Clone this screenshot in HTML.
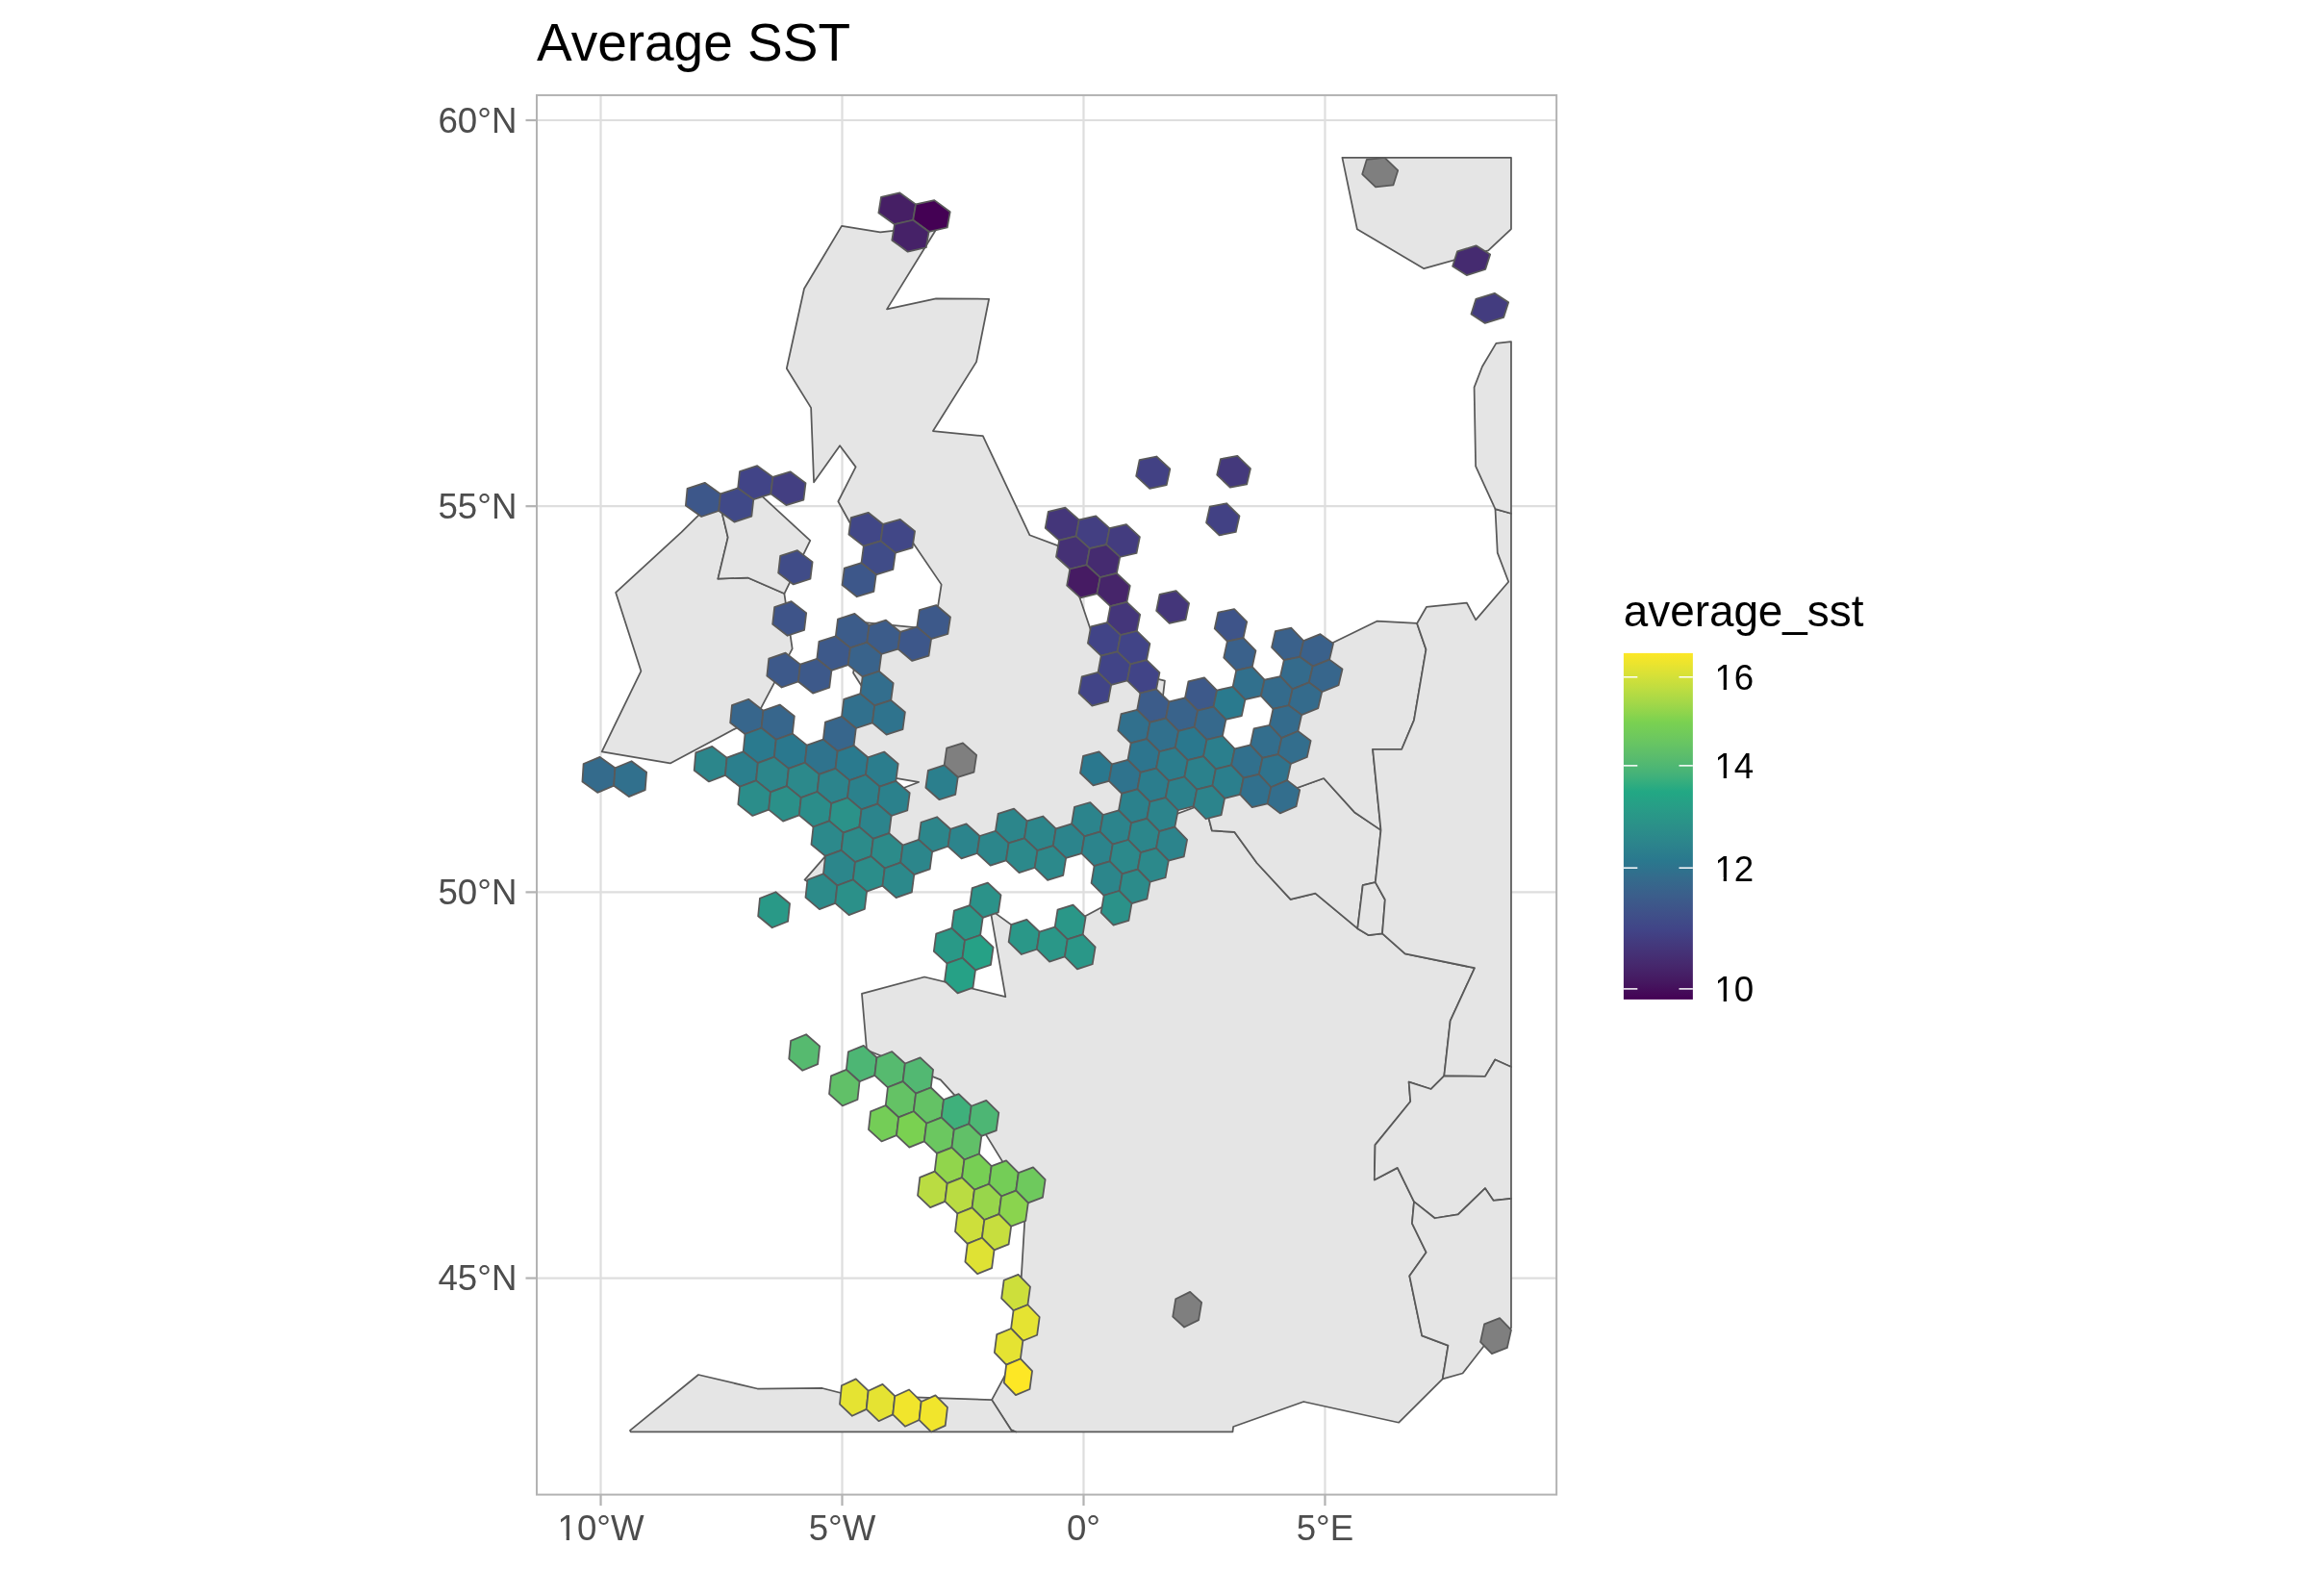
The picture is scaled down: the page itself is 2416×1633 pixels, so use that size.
<!DOCTYPE html>
<html><head><meta charset="utf-8"><title>Average SST</title>
<style>html,body{margin:0;padding:0;background:#fff;}svg{display:block;}text{font-family:"Liberation Sans",sans-serif;}</style></head>
<body>
<svg width="2416" height="1633" viewBox="0 0 2416 1633">
<defs><clipPath id="pc"><rect x="558" y="98.95" width="1060.14" height="1454.65"/></clipPath>
<linearGradient id="cb" x1="0" y1="0" x2="0" y2="1"><stop offset="0" stop-color="#fde725"/><stop offset="0.05" stop-color="#dfe234"/><stop offset="0.1" stop-color="#c0dd40"/><stop offset="0.15" stop-color="#9fd749"/><stop offset="0.2" stop-color="#7ad151"/><stop offset="0.25" stop-color="#6bc760"/><stop offset="0.3" stop-color="#5abc6d"/><stop offset="0.35" stop-color="#44b279"/><stop offset="0.4" stop-color="#22a884"/><stop offset="0.45" stop-color="#289c87"/><stop offset="0.5" stop-color="#2b9089"/><stop offset="0.55" stop-color="#2c848c"/><stop offset="0.6" stop-color="#2a788e"/><stop offset="0.65" stop-color="#346b8c"/><stop offset="0.7" stop-color="#3b5e8b"/><stop offset="0.75" stop-color="#3f5189"/><stop offset="0.8" stop-color="#414487"/><stop offset="0.85" stop-color="#44367a"/><stop offset="0.9" stop-color="#46286d"/><stop offset="0.95" stop-color="#451860"/><stop offset="1" stop-color="#440154"/></linearGradient></defs>
<rect width="2416" height="1633" fill="#fff"/>
<g stroke="#dedede" stroke-width="2.22" fill="none"><line x1="624.53" y1="98.95" x2="624.53" y2="1553.6"/><line x1="875.51" y1="98.95" x2="875.51" y2="1553.6"/><line x1="1126.49" y1="98.95" x2="1126.49" y2="1553.6"/><line x1="1377.47" y1="98.95" x2="1377.47" y2="1553.6"/><line x1="558" y1="124.99" x2="1618.14" y2="124.99"/><line x1="558" y1="526.19" x2="1618.14" y2="526.19"/><line x1="558" y1="927.39" x2="1618.14" y2="927.39"/><line x1="558" y1="1328.59" x2="1618.14" y2="1328.59"/></g>
<g clip-path="url(#pc)" fill="#e5e5e5" stroke="#595959" stroke-width="1.75" stroke-linejoin="round">
<path d="M823.66 674.38L785.72 746.04L696.73 793.45L625.68 781.32L666.38 697.53L640.16 615.95L708.46 553.11L746.4 515.63L756.74 558.62L746.4 601.62L777.44 600.52L815.38 617.06Z"/>
<path d="M777.44 600.52L746.4 601.62L756.74 558.62L746.4 515.63L788.48 512.32L842.28 561.93L815.38 617.06Z"/>
<path d="M971.28 654.22L978.66 607.63L945.05 558.21L944.28 557.08L883.33 542.96L871.37 521.25L889.61 485.39L873.1 463.28L846.08 501.22L843.13 423.88L817.79 382.96L836.01 300.01L875.01 234.92L915.09 241.27L975.65 234.52L922 321.34L973.14 310.34L1028.14 310.76L1015.06 376.14L969.93 448.05L1021.83 453.17L1025.81 461.6L1070.52 556.28L1104.88 569.17L1135.78 660.59L1150.08 692.29L1210.9 707.57L1204.8 758.89L1179.22 782.42L1199.27 823.93L1154.11 865.95L1086.96 865.2L1001.5 887.27L978.1 871.47L944.91 909.07L898.47 899.96L863.21 930.6L836.53 914.58L910.15 830.3L955.08 812.97L954.68 812.9L876.29 799.53L862.09 767.6L914.55 742.73L887.05 699.51L896.59 646.95L971.19 654.21Z"/>
<path d="M1259.93 863.45L1283.26 864.77L1306.6 896.98L1341.63 934.81L1367.39 928.56L1411.3 965.14L1422.53 972.11L1437.02 970.41L1460.71 991.42L1533.04 1006.2L1507.66 1061.15L1501.29 1118.31L1487.51 1132.02L1464.64 1124.64L1466.25 1145.02L1429.54 1190.11L1428.8 1226.45L1452.77 1213.87L1470.01 1249.06L1467.94 1271.73L1482.71 1301.86L1465.31 1326.3L1478.24 1388.39L1505.45 1398.57L1499.71 1433.4L1454.23 1478.73L1355.23 1457L1282.12 1483.04L1281.47 1488.47L1056.45 1488.47L1051.06 1486.34L1031.05 1455.14L1057.01 1407.02L1066.57 1247.15L1014.77 1162.95L977.75 1122.35L901.03 1091.48L895.97 1032.97L961.05 1015.52L1045.35 1036.16L1029.44 945.34L1076.82 979.76L1193.69 917.19L1208.76 851.43L1252.66 835.23Z"/>
<path d="M726.02 1429.02L787.44 1443.5L854.83 1442.99L908.25 1456.7L949.92 1452.49L1031.05 1455.14L1051.06 1486.34L1056.45 1488.47L655.91 1488.47L655 1486.93Z"/>
<path d="M1329.64 825.71L1376.16 809.03L1407.94 844.16L1435.53 862.9L1429.83 917.12L1416.74 920.14L1411.3 965.14L1367.39 928.56L1341.63 934.81L1306.6 896.98L1283.26 864.77L1259.93 863.45L1252.66 835.23L1292.89 819.4Z"/>
<path d="M1473.1 647.98L1482.48 675.11L1469.97 748.58L1457.25 778.78L1427.1 778.82L1435.53 862.9L1407.94 844.16L1376.16 809.03L1329.64 825.71L1292.89 819.4L1318.76 797.36L1362.71 679.3L1431.39 645.72Z"/>
<path d="M1439.85 935.24L1437.02 970.41L1422.53 972.11L1411.3 965.14L1416.74 920.14L1429.83 917.12Z"/>
<path d="M1554.29 1101.44L1543.99 1118.88L1501.29 1118.31L1507.66 1061.15L1533.04 1006.2L1460.71 991.42L1437.02 970.41L1439.85 935.24L1429.83 917.12L1435.53 862.9L1427.1 778.82L1457.25 778.78L1469.97 748.58L1482.48 675.11L1473.1 647.98L1482.9 630.99L1524.86 626.63L1534.17 644.32L1568.25 604.76L1556.78 574.68L1554.47 529.18L1570.97 533.78L1570.97 1109.05Z"/>
<path d="M1554.47 529.18L1534.1 484.65L1532.57 402.62L1540.94 380.96L1555.34 356.88L1570.97 355.12L1570.97 533.78Z"/>
<path d="M1552.65 1247.94L1543.95 1235.22L1515.81 1262.43L1491.61 1266.25L1470.01 1249.06L1452.77 1213.87L1428.8 1226.45L1429.54 1190.11L1466.25 1145.02L1464.64 1124.64L1487.51 1132.02L1501.29 1118.31L1543.99 1118.88L1554.29 1101.44L1570.97 1109.05L1570.97 1245.98Z"/>
<path d="M1549.57 1390.28L1520.57 1427.51L1499.71 1433.4L1505.45 1398.57L1478.24 1388.39L1465.31 1326.3L1482.71 1301.86L1467.94 1271.73L1470.01 1249.06L1491.61 1266.25L1515.81 1262.43L1543.95 1235.22L1552.65 1247.94L1570.97 1245.98L1570.97 1380.24Z"/>
<path d="M1547.23 260.33L1480.31 279.14L1410.89 238.28L1395.41 163.85L1570.97 163.85L1570.97 238.11Z"/>
</g>
<g clip-path="url(#pc)" stroke="#595959" stroke-width="1.75" stroke-linejoin="round">
<path fill="#7f7f7f" d="M1439.43 163.85L1420.84 165.77L1416.21 181.01L1430.07 194.27L1448.49 192.33L1453.22 177.15Z"/>
<path fill="#461f65" d="M935.43 200.43L916.01 204.9L913.36 221.31L929.97 233.22L949.23 228.76L952.03 212.39Z"/>
<path fill="#440154" d="M971.36 208.09L952.03 212.39L949.23 228.76L965.62 240.8L984.79 236.51L987.73 220.18Z"/>
<path fill="#462268" d="M949.23 228.76L929.97 233.22L927.28 249.69L943.7 261.68L962.79 257.24L965.62 240.8Z"/>
<path fill="#452b70" d="M1514.97 261.44L1510.11 276.82L1524.69 286.07L1544.19 279.98L1549.18 264.6L1534.54 255.32Z"/>
<path fill="#433c7f" d="M1534.32 310.89L1529.44 326.42L1543.84 335.9L1563.18 329.87L1568.2 314.34L1553.74 304.83Z"/>
<path fill="#424184" d="M1202.28 474.5L1184.62 478.18L1181.15 494.85L1195.25 507.79L1212.76 504.1L1216.33 487.48Z"/>
<path fill="#44397c" d="M1286.42 473.83L1268.93 477.11L1265.18 493.58L1278.81 506.72L1296.14 503.43L1300 487.02Z"/>
<path fill="#414487" d="M787.25 484.18L769.05 489.96L767.15 507.45L783.31 519.13L801.38 513.37L803.41 495.91Z"/>
<path fill="#433f82" d="M821.56 490.29L803.41 495.91L801.38 513.37L817.36 525.17L835.37 519.57L837.53 502.15Z"/>
<path fill="#3d578a" d="M732.69 501.82L714.53 507.91L712.85 525.53L729.19 537.03L747.22 530.96L749.03 513.37Z"/>
<path fill="#404988" d="M767.15 507.45L749.03 513.37L747.22 530.96L763.39 542.59L781.37 536.68L783.31 519.13Z"/>
<path fill="#44367a" d="M1107.4 527.65L1089.78 531.91L1086.7 548.93L1101.12 561.65L1118.59 557.39L1121.78 540.42Z"/>
<path fill="#424184" d="M1275.04 523.24L1257.75 526.67L1254.07 543.29L1267.6 556.44L1284.75 553L1288.52 536.42Z"/>
<path fill="#414787" d="M902.61 532.8L884.73 538.09L882.4 555.53L897.84 567.63L915.59 562.35L918.03 544.95Z"/>
<path fill="#433f82" d="M1139.3 536.3L1121.78 540.42L1118.59 557.39L1132.81 570.2L1150.19 566.08L1153.49 549.15Z"/>
<path fill="#414787" d="M935.85 539.82L918.03 544.95L915.59 562.35L930.84 574.57L948.52 569.44L951.08 552.08Z"/>
<path fill="#433c7f" d="M1170.91 545.17L1153.49 549.15L1150.19 566.08L1164.22 578.98L1181.5 574.99L1184.9 558.12Z"/>
<path fill="#453175" d="M1118.59 557.39L1101.12 561.65L1098.01 578.73L1112.28 591.49L1129.6 587.23L1132.81 570.2Z"/>
<path fill="#404c88" d="M915.59 562.35L897.84 567.63L895.48 585.13L910.75 597.3L928.36 592.02L930.84 574.57Z"/>
<path fill="#452b70" d="M1150.19 566.08L1132.81 570.2L1129.6 587.23L1143.67 600.08L1160.9 595.96L1164.22 578.98Z"/>
<path fill="#404c88" d="M828.98 572.13L811.18 577.87L809.15 595.54L824.8 607.43L842.46 601.71L844.61 584.08Z"/>
<path fill="#3d578a" d="M895.48 585.13L877.8 590.55L875.53 608.14L890.81 620.26L908.36 614.84L910.75 597.3Z"/>
<path fill="#461b63" d="M1129.6 587.23L1112.28 591.49L1109.15 608.62L1123.26 621.43L1140.45 617.16L1143.67 600.08Z"/>
<path fill="#46256a" d="M1160.9 595.96L1143.67 600.08L1140.45 617.16L1154.36 630.06L1171.45 625.93L1174.77 608.9Z"/>
<path fill="#44367a" d="M1222.62 614.07L1205.59 617.93L1202.16 634.9L1215.69 647.97L1232.58 644.09L1236.1 627.17Z"/>
<path fill="#3e5489" d="M822.73 625.16L805.15 631.03L803.17 648.84L818.65 660.75L836.11 654.89L838.21 637.12Z"/>
<path fill="#44367a" d="M1171.45 625.93L1154.36 630.06L1151.12 647.19L1164.87 660.13L1181.83 655.98L1185.17 638.91Z"/>
<path fill="#3d598a" d="M973.26 629.02L955.85 634.14L953.32 651.7L968.08 664.09L985.35 658.97L988 641.46Z"/>
<path fill="#3e5489" d="M1283.15 633.01L1266.32 636.61L1262.71 653.49L1275.84 666.7L1292.53 663.08L1296.23 646.26Z"/>
<path fill="#3c5c8a" d="M888.51 637.91L871.04 643.47L868.82 661.21L883.95 673.34L901.29 667.79L903.63 650.09Z"/>
<path fill="#3c5c8a" d="M921.04 644.68L903.63 650.09L901.29 667.79L916.25 680.03L933.53 674.62L935.98 656.96Z"/>
<path fill="#414487" d="M1151.12 647.19L1134.07 651.46L1130.91 668.69L1144.71 681.59L1161.62 677.3L1164.87 660.13Z"/>
<path fill="#3d578a" d="M953.32 651.7L935.98 656.96L933.53 674.62L948.3 686.96L965.51 681.7L968.08 664.09Z"/>
<path fill="#414487" d="M1181.83 655.98L1164.87 660.13L1161.62 677.3L1175.23 690.28L1192.05 686.13L1195.4 669.01Z"/>
<path fill="#3a618b" d="M1342.46 652.73L1325.84 656.09L1322.06 672.86L1334.81 686.21L1351.29 682.82L1355.15 666.11Z"/>
<path fill="#3d598a" d="M868.82 661.21L851.42 666.92L849.28 684.75L864.43 696.83L881.7 691.13L883.95 673.34Z"/>
<path fill="#3a618b" d="M1292.53 663.08L1275.84 666.7L1272.23 683.62L1285.22 696.86L1301.78 693.22L1305.48 676.36Z"/>
<path fill="#3a618b" d="M1355.15 666.11L1351.29 682.82L1364.73 692.57L1382.11 685.62L1386.09 668.9L1372.58 659.13Z"/>
<path fill="#39638b" d="M901.29 667.79L883.95 673.34L881.7 691.13L896.67 703.32L913.88 697.77L916.25 680.03Z"/>
<path fill="#414487" d="M1161.62 677.3L1144.71 681.59L1141.54 698.86L1155.19 711.8L1171.97 707.51L1175.23 690.28Z"/>
<path fill="#3d598a" d="M816.64 678.63L799.26 684.63L797.32 702.59L812.65 714.51L829.9 708.52L831.96 690.6Z"/>
<path fill="#3d598a" d="M849.28 684.75L831.96 690.6L829.9 708.52L845.06 720.56L862.26 714.72L864.43 696.83Z"/>
<path fill="#414487" d="M1192.05 686.13L1175.23 690.28L1171.97 707.51L1185.43 720.52L1202.11 716.36L1205.47 699.19Z"/>
<path fill="#346b8c" d="M1351.29 682.82L1334.81 686.21L1331.02 703.02L1343.63 716.39L1360.85 709.36L1364.73 692.57Z"/>
<path fill="#37668c" d="M1364.73 692.57L1360.85 709.36L1374.23 719.21L1391.55 712.3L1395.54 695.5L1382.11 685.62Z"/>
<path fill="#31708d" d="M1301.78 693.22L1285.22 696.86L1281.6 713.83L1294.45 727.1L1310.87 723.45L1314.58 706.54Z"/>
<path fill="#336e8d" d="M913.88 697.77L896.67 703.32L894.39 721.17L909.2 733.41L926.28 727.87L928.68 710.07Z"/>
<path fill="#414487" d="M1141.54 698.86L1124.68 703.29L1121.59 720.66L1135.28 733.55L1152.01 729.12L1155.19 711.8Z"/>
<path fill="#3d598a" d="M1252.04 704.4L1235.42 708.3L1231.97 725.42L1245.05 738.58L1261.54 734.67L1265.08 717.6Z"/>
<path fill="#346b8c" d="M1331.02 703.02L1314.58 706.54L1310.87 723.45L1323.53 736.78L1339.85 733.25L1343.63 716.39Z"/>
<path fill="#3c5c8a" d="M1202.11 716.36L1185.43 720.52L1182.15 737.79L1195.46 750.84L1212.01 746.67L1215.38 729.45Z"/>
<path fill="#2a7a8e" d="M1281.6 713.83L1265.08 717.6L1261.54 734.67L1274.44 747.9L1290.83 744.11L1294.45 727.1Z"/>
<path fill="#346b8c" d="M1343.63 716.39L1339.85 733.25L1353.17 743.08L1370.33 736.08L1374.23 719.21L1360.85 709.36Z"/>
<path fill="#37668c" d="M778.17 726.79L760.94 733.07L759.17 751.22L774.51 763.04L791.61 756.77L793.5 738.66Z"/>
<path fill="#31708d" d="M894.39 721.17L877.25 726.86L875.05 744.79L889.87 756.99L906.89 751.3L909.2 733.41Z"/>
<path fill="#39638b" d="M1231.97 725.42L1215.38 729.45L1212.01 746.67L1225.14 759.79L1241.6 755.74L1245.05 738.58Z"/>
<path fill="#37668c" d="M810.68 732.53L793.5 738.66L791.61 756.77L806.78 768.7L823.84 762.58L825.85 744.51Z"/>
<path fill="#2f738d" d="M926.28 727.87L909.2 733.41L906.89 751.3L921.55 763.6L938.5 758.06L940.92 740.22Z"/>
<path fill="#36698c" d="M1261.54 734.67L1245.05 738.58L1241.6 755.74L1254.54 768.94L1270.9 765.01L1274.44 747.9Z"/>
<path fill="#346b8c" d="M1339.85 733.25L1323.53 736.78L1319.83 753.74L1332.36 767.1L1349.37 760.01L1353.17 743.08Z"/>
<path fill="#37668c" d="M875.05 744.79L857.97 750.63L855.85 768.65L870.69 780.8L887.64 774.97L889.87 756.99Z"/>
<path fill="#31708d" d="M1182.15 737.79L1165.51 742.09L1162.31 759.46L1175.67 772.47L1192.18 768.16L1195.46 750.84Z"/>
<path fill="#31708d" d="M1212.01 746.67L1195.46 750.84L1192.18 768.16L1205.35 781.24L1221.77 777.05L1225.14 759.79Z"/>
<path fill="#2a7a8e" d="M791.61 756.77L774.51 763.04L772.7 781.24L787.87 793.12L804.86 786.86L806.78 768.7Z"/>
<path fill="#2a788e" d="M1241.6 755.74L1225.14 759.79L1221.77 777.05L1234.76 790.21L1251.08 786.14L1254.54 768.94Z"/>
<path fill="#336e8d" d="M1319.83 753.74L1303.54 757.41L1299.92 774.46L1312.49 787.79L1328.65 784.1L1332.36 767.1Z"/>
<path fill="#2a788e" d="M823.84 762.58L806.78 768.7L804.86 786.86L819.87 798.85L836.81 792.74L838.85 774.62Z"/>
<path fill="#2b7f8d" d="M1270.9 765.01L1254.54 768.94L1251.08 786.14L1263.89 799.37L1280.11 795.42L1283.66 778.27Z"/>
<path fill="#336e8d" d="M1332.36 767.1L1328.65 784.1L1341.84 794.02L1358.8 786.96L1362.62 769.95L1349.37 760.01Z"/>
<path fill="#2c868b" d="M740.33 775.88L723.27 782.44L721.65 800.76L736.99 812.49L753.94 805.93L755.67 787.65Z"/>
<path fill="#2f738d" d="M855.85 768.65L838.85 774.62L836.81 792.74L851.66 804.84L868.54 798.87L870.69 780.8Z"/>
<path fill="#2a7a8e" d="M887.64 774.97L870.69 780.8L868.54 798.87L883.23 811.08L900.05 805.26L902.31 787.23Z"/>
<path fill="#7f7f7f" d="M1001 772.3L984.18 777.56L981.63 795.41L995.79 807.95L1012.48 802.69L1015.14 784.89Z"/>
<path fill="#2d758e" d="M1192.18 768.16L1175.67 772.47L1172.46 789.88L1185.68 802.92L1202.05 798.6L1205.35 781.24Z"/>
<path fill="#2b7d8d" d="M1221.77 777.05L1205.35 781.24L1202.05 798.6L1215.09 811.71L1231.37 807.51L1234.76 790.21Z"/>
<path fill="#31708d" d="M1299.92 774.46L1283.66 778.27L1280.11 795.42L1292.74 808.71L1308.86 804.88L1312.49 787.79Z"/>
<path fill="#2b7f8d" d="M772.7 781.24L755.67 787.65L753.94 805.93L769.12 817.77L786.03 811.37L787.87 793.12Z"/>
<path fill="#2b7d8d" d="M919.2 781.54L902.31 787.23L900.05 805.26L914.57 817.56L931.34 811.88L933.71 793.9Z"/>
<path fill="#2a788e" d="M1142.6 781.36L1126.04 785.94L1123.01 803.5L1136.44 816.42L1152.87 811.84L1155.99 794.33Z"/>
<path fill="#2b818c" d="M1251.08 786.14L1234.76 790.21L1231.37 807.51L1244.23 820.69L1260.42 816.61L1263.89 799.37Z"/>
<path fill="#2f738d" d="M1328.65 784.1L1312.49 787.79L1308.86 804.88L1321.31 818.23L1338.12 811.09L1341.84 794.02Z"/>
<path fill="#346b8c" d="M623.67 786.88L606.59 794.05L605.42 812.56L621.2 823.87L638.16 816.72L639.46 798.24Z"/>
<path fill="#31708d" d="M656.51 791.23L639.46 798.24L638.16 816.72L653.8 828.16L670.74 821.16L672.15 802.72Z"/>
<path fill="#2c868b" d="M804.86 786.86L787.87 793.12L786.03 811.37L801.05 823.31L817.91 817.06L819.87 798.85Z"/>
<path fill="#2c898b" d="M836.81 792.74L819.87 798.85L817.91 817.06L832.77 829.11L849.59 823L851.66 804.84Z"/>
<path fill="#2b7f8d" d="M981.63 795.41L964.87 800.8L962.39 818.74L976.57 831.24L993.21 825.84L995.79 807.95Z"/>
<path fill="#2f738d" d="M1172.46 789.88L1155.99 794.33L1152.87 811.84L1166.12 824.84L1182.46 820.37L1185.68 802.92Z"/>
<path fill="#2b7f8d" d="M1280.11 795.42L1263.89 799.37L1260.42 816.61L1273.09 829.86L1289.19 825.9L1292.74 808.71Z"/>
<path fill="#2c848c" d="M868.54 798.87L851.66 804.84L849.59 823L864.28 835.16L881.04 829.2L883.23 811.08Z"/>
<path fill="#2b818c" d="M900.05 805.26L883.23 811.08L881.04 829.2L895.58 841.45L912.28 835.64L914.57 817.56Z"/>
<path fill="#2b7d8d" d="M1202.05 798.6L1185.68 802.92L1182.46 820.37L1195.53 833.45L1211.78 829.11L1215.09 811.71Z"/>
<path fill="#2b818c" d="M1231.37 807.51L1215.09 811.71L1211.78 829.11L1224.68 842.25L1240.83 838.04L1244.23 820.69Z"/>
<path fill="#31708d" d="M1308.86 804.88L1292.74 808.71L1289.19 825.9L1301.68 839.21L1317.68 835.37L1321.31 818.23Z"/>
<path fill="#2b8d8a" d="M786.03 811.37L769.12 817.77L767.35 836.1L782.37 847.99L799.16 841.6L801.05 823.31Z"/>
<path fill="#2b818c" d="M931.34 811.88L914.57 817.56L912.28 835.64L926.65 847.99L943.29 842.31L945.69 824.28Z"/>
<path fill="#2c848c" d="M1260.42 816.61L1244.23 820.69L1240.83 838.04L1253.55 851.25L1269.62 847.15L1273.09 829.86Z"/>
<path fill="#336e8d" d="M1321.31 818.23L1317.68 835.37L1330.74 845.38L1347.5 838.27L1351.24 821.12L1338.12 811.09Z"/>
<path fill="#2b9089" d="M817.91 817.06L801.05 823.31L799.16 841.6L814.03 853.61L830.78 847.36L832.77 829.11Z"/>
<path fill="#2b8d8a" d="M849.59 823L832.77 829.11L830.78 847.36L845.48 859.47L862.18 853.37L864.28 835.16Z"/>
<path fill="#2b818c" d="M1182.46 820.37L1166.12 824.84L1162.98 842.38L1176.09 855.41L1192.3 850.94L1195.53 833.45Z"/>
<path fill="#2b9289" d="M881.04 829.2L864.28 835.16L862.18 853.37L876.73 865.57L893.37 859.62L895.58 841.45Z"/>
<path fill="#2c848c" d="M912.28 835.64L895.58 841.45L893.37 859.62L907.75 871.92L924.33 866.11L926.65 847.99Z"/>
<path fill="#2c848c" d="M1133.39 834.02L1117.01 838.75L1114.04 856.44L1127.36 869.36L1143.62 864.62L1146.68 846.98Z"/>
<path fill="#2c848c" d="M1211.78 829.11L1195.53 833.45L1192.3 850.94L1205.24 864.04L1221.36 859.69L1224.68 842.25Z"/>
<path fill="#2c868b" d="M1054.12 840.71L1037.63 845.84L1034.93 863.72L1048.62 876.43L1064.99 871.3L1067.79 853.46Z"/>
<path fill="#2c848c" d="M1162.98 842.38L1146.68 846.98L1143.62 864.62L1156.77 877.61L1172.94 873L1176.09 855.41Z"/>
<path fill="#2c898b" d="M862.18 853.37L845.48 859.47L843.46 877.76L858.02 889.92L874.59 883.83L876.73 865.57Z"/>
<path fill="#2c868b" d="M974.07 849.22L957.5 854.76L955.07 872.83L969.13 885.32L985.59 879.79L988.11 861.76Z"/>
<path fill="#2c848c" d="M1004.62 856.36L988.11 861.76L985.59 879.79L999.48 892.37L1015.86 886.96L1018.49 868.99Z"/>
<path fill="#2c868b" d="M1084.21 848.47L1067.79 853.46L1064.99 871.3L1078.52 884.09L1094.81 879.09L1097.7 861.31Z"/>
<path fill="#2c848c" d="M1114.04 856.44L1097.7 861.31L1094.81 879.09L1108.17 891.96L1124.38 887.09L1127.36 869.36Z"/>
<path fill="#2c868b" d="M1192.3 850.94L1176.09 855.41L1172.94 873L1185.92 886.06L1202 881.57L1205.24 864.04Z"/>
<path fill="#2c8b8a" d="M893.37 859.62L876.73 865.57L874.59 883.83L888.99 896.08L905.51 890.13L907.75 871.92Z"/>
<path fill="#2c8b8a" d="M924.33 866.11L907.75 871.92L905.51 890.13L919.75 902.48L936.21 896.67L938.55 878.51Z"/>
<path fill="#2c868b" d="M1034.93 863.72L1018.49 868.99L1015.86 886.96L1029.59 899.63L1045.91 894.36L1048.62 876.43Z"/>
<path fill="#2c848c" d="M1143.62 864.62L1127.36 869.36L1124.38 887.09L1137.56 900.04L1153.7 895.29L1156.77 877.61Z"/>
<path fill="#2c848c" d="M1221.36 859.69L1205.24 864.04L1202 881.57L1214.8 894.7L1230.8 890.34L1234.12 872.86Z"/>
<path fill="#2c868b" d="M955.07 872.83L938.55 878.51L936.21 896.67L950.28 909.11L966.68 903.44L969.13 885.32Z"/>
<path fill="#2c898b" d="M1064.99 871.3L1048.62 876.43L1045.91 894.36L1059.46 907.11L1075.7 901.97L1078.52 884.09Z"/>
<path fill="#2c898b" d="M1172.94 873L1156.77 877.61L1153.7 895.29L1166.71 908.31L1182.76 903.69L1185.92 886.06Z"/>
<path fill="#2c868b" d="M874.59 883.83L858.02 889.92L855.96 908.26L870.37 920.47L886.82 914.38L888.99 896.08Z"/>
<path fill="#2c898b" d="M1094.81 879.09L1078.52 884.09L1075.7 901.97L1089.09 914.8L1105.26 909.79L1108.17 891.96Z"/>
<path fill="#2c898b" d="M1202 881.57L1185.92 886.06L1182.76 903.69L1195.6 916.77L1211.56 912.27L1214.8 894.7Z"/>
<path fill="#2b8d8a" d="M905.51 890.13L888.99 896.08L886.82 914.38L901.08 926.68L917.48 920.74L919.75 902.48Z"/>
<path fill="#2c898b" d="M936.21 896.67L919.75 902.48L917.48 920.74L931.57 933.13L947.91 927.32L950.28 909.11Z"/>
<path fill="#2c868b" d="M1153.7 895.29L1137.56 900.04L1134.57 917.81L1147.61 930.78L1163.62 926.03L1166.71 908.31Z"/>
<path fill="#2c8b8a" d="M1182.76 903.69L1166.71 908.31L1163.62 926.03L1176.5 939.07L1192.42 934.44L1195.6 916.77Z"/>
<path fill="#2c8b8a" d="M855.96 908.26L839.45 914.49L837.46 932.92L851.88 945.08L868.28 938.85L870.37 920.47Z"/>
<path fill="#2b9089" d="M886.82 914.38L870.37 920.47L868.28 938.85L882.54 951.11L898.88 945.02L901.08 926.68Z"/>
<path fill="#2b9289" d="M1026.94 917.65L1010.68 923.05L1008.11 941.16L1021.71 953.81L1037.86 948.41L1040.52 930.35Z"/>
<path fill="#2b9289" d="M1163.62 926.03L1147.61 930.78L1144.6 948.59L1157.52 961.59L1173.4 956.83L1176.5 939.07Z"/>
<path fill="#299987" d="M806.45 927.23L789.96 933.74L788.15 952.29L802.73 964.3L819.11 957.8L821.02 939.29Z"/>
<path fill="#2a9788" d="M1008.11 941.16L991.89 946.7L989.4 964.9L1003.03 977.5L1019.13 971.96L1021.71 953.81Z"/>
<path fill="#2a9788" d="M1115.55 940.55L1099.51 945.57L1096.66 963.52L1109.77 976.41L1125.7 971.39L1128.63 953.48Z"/>
<path fill="#2a9788" d="M1067.38 955.86L1051.3 961.14L1048.62 979.24L1061.93 992L1077.89 986.72L1080.66 968.67Z"/>
<path fill="#299987" d="M989.4 964.9L973.24 970.57L970.82 988.86L984.47 1001.42L1000.52 995.74L1003.03 977.5Z"/>
<path fill="#2a9788" d="M1096.66 963.52L1080.66 968.67L1077.89 986.72L1091.03 999.56L1106.91 994.4L1109.77 976.41Z"/>
<path fill="#26a186" d="M1019.13 971.96L1003.03 977.5L1000.52 995.74L1014.01 1008.38L1029.99 1002.83L1032.59 984.65Z"/>
<path fill="#2a9788" d="M1125.7 971.39L1109.77 976.41L1106.91 994.4L1119.89 1007.31L1135.7 1002.28L1138.65 984.34Z"/>
<path fill="#26a186" d="M1000.52 995.74L984.47 1001.42L982.03 1019.74L995.54 1032.33L1011.47 1026.65L1014.01 1008.38Z"/>
<path fill="#56ba6f" d="M838.08 1075.23L822.1 1081.84L820.24 1100.63L834.27 1112.77L850.14 1106.17L852.1 1087.42Z"/>
<path fill="#4db674" d="M897.78 1086.88L881.9 1093.22L879.84 1111.92L893.57 1124.24L909.34 1117.9L911.5 1099.25Z"/>
<path fill="#56ba6f" d="M927.33 1093.04L911.5 1099.25L909.34 1117.9L922.93 1130.3L938.65 1124.09L940.9 1105.49Z"/>
<path fill="#52b872" d="M956.67 1099.41L940.9 1105.49L938.65 1124.09L952.08 1136.57L967.75 1130.5L970.09 1111.94Z"/>
<path fill="#61c068" d="M879.84 1111.92L864.01 1118.39L862.03 1137.18L875.77 1149.44L891.49 1142.97L893.57 1124.24Z"/>
<path fill="#64c265" d="M938.65 1124.09L922.93 1130.3L920.75 1148.99L934.2 1161.42L949.81 1155.21L952.08 1136.57Z"/>
<path fill="#64c265" d="M967.75 1130.5L952.08 1136.57L949.81 1155.21L963.12 1167.72L978.67 1161.64L981.03 1143.05Z"/>
<path fill="#3fb07b" d="M996.64 1137.1L981.03 1143.05L978.67 1161.64L991.83 1174.23L1007.32 1168.27L1009.77 1149.74Z"/>
<path fill="#4db674" d="M1025.32 1143.92L1009.77 1149.74L1007.32 1168.27L1020.33 1180.93L1035.76 1175.1L1038.3 1156.62Z"/>
<path fill="#74cd57" d="M920.75 1148.99L905.08 1155.32L902.97 1174.09L916.44 1186.47L932 1180.13L934.2 1161.42Z"/>
<path fill="#7ad151" d="M949.81 1155.21L934.2 1161.42L932 1180.13L945.32 1192.59L960.82 1186.39L963.12 1167.72Z"/>
<path fill="#6bc760" d="M978.67 1161.64L963.12 1167.72L960.82 1186.39L974 1198.92L989.45 1192.84L991.83 1174.23Z"/>
<path fill="#61c068" d="M1007.32 1168.27L991.83 1174.23L989.45 1192.84L1002.47 1205.45L1017.86 1199.49L1020.33 1180.93Z"/>
<path fill="#91d54c" d="M989.45 1192.84L974 1198.92L971.69 1217.62L984.73 1230.18L1000.07 1224.09L1002.47 1205.45Z"/>
<path fill="#77cf54" d="M1017.86 1199.49L1002.47 1205.45L1000.07 1224.09L1012.97 1236.73L1028.25 1230.76L1030.74 1212.17Z"/>
<path fill="#74cd57" d="M1046.07 1206.34L1030.74 1212.17L1028.25 1230.76L1041.01 1243.46L1056.23 1237.62L1058.8 1219.09Z"/>
<path fill="#6ec95d" d="M1074.06 1213.38L1058.8 1219.09L1056.23 1237.62L1068.84 1250.39L1083.99 1244.67L1086.64 1226.19Z"/>
<path fill="#badc42" d="M971.69 1217.62L956.29 1223.83L954.04 1242.6L967.11 1255.11L982.4 1248.9L984.73 1230.18Z"/>
<path fill="#badc42" d="M1000.07 1224.09L984.73 1230.18L982.4 1248.9L995.32 1261.48L1010.55 1255.39L1012.97 1236.73Z"/>
<path fill="#98d64b" d="M1028.25 1230.76L1012.97 1236.73L1010.55 1255.39L1023.33 1268.04L1038.51 1262.08L1041.01 1243.46Z"/>
<path fill="#8ad44e" d="M1056.23 1237.62L1041.01 1243.46L1038.51 1262.08L1051.14 1274.8L1066.25 1268.95L1068.84 1250.39Z"/>
<path fill="#cddf3b" d="M1010.55 1255.39L995.32 1261.48L992.97 1280.23L1005.76 1292.83L1020.89 1286.74L1023.33 1268.04Z"/>
<path fill="#c7de3e" d="M1038.51 1262.08L1023.33 1268.04L1020.89 1286.74L1033.55 1299.41L1048.62 1293.43L1051.14 1274.8Z"/>
<path fill="#dfe234" d="M1020.89 1286.74L1005.76 1292.83L1003.39 1311.6L1016.07 1324.22L1031.1 1318.12L1033.55 1299.41Z"/>
<path fill="#cddf3b" d="M1058.6 1324.82L1043.63 1330.8L1041.16 1349.54L1053.57 1362.23L1068.44 1356.25L1070.99 1337.57Z"/>
<path fill="#7f7f7f" d="M1222.19 1350.32L1219.21 1368.63L1231.13 1379.52L1246.09 1372.13L1249.16 1353.8L1237.19 1342.89Z"/>
<path fill="#e5e332" d="M1068.44 1356.25L1053.57 1362.23L1051.09 1380.98L1063.39 1393.69L1078.15 1387.7L1080.71 1369Z"/>
<path fill="#7f7f7f" d="M1543.1 1376.35L1539.05 1394.82L1550.9 1407.1L1566.84 1400.94L1570.97 1382.46L1559.08 1370.15Z"/>
<path fill="#e5e332" d="M1051.09 1380.98L1036.27 1387.09L1033.84 1405.92L1046.16 1418.58L1060.89 1412.46L1063.39 1393.69Z"/>
<path fill="#fde725" d="M1060.89 1412.46L1046.16 1418.58L1043.73 1437.42L1055.93 1450.08L1070.55 1443.96L1073.07 1425.17Z"/>
<path fill="#e5e332" d="M889.81 1433.38L874.91 1440.33L873.01 1459.58L885.91 1471.82L900.71 1464.87L902.7 1445.68Z"/>
<path fill="#e5e332" d="M917.54 1438.85L902.7 1445.68L900.71 1464.87L913.48 1477.18L928.23 1470.36L930.3 1451.21Z"/>
<path fill="#f1e52c" d="M945.1 1444.5L930.3 1451.21L928.23 1470.36L940.87 1482.74L955.57 1476.03L957.73 1456.94Z"/>
<path fill="#f1e52c" d="M972.48 1450.35L957.73 1456.94L955.57 1476.03L968.08 1488.47L982.73 1481.88L984.97 1462.84Z"/>
</g>
<rect x="558" y="98.95" width="1060.14" height="1454.65" fill="none" stroke="#b3b3b3" stroke-width="2"/>
<g stroke="#b3b3b3" stroke-width="2.22"><line x1="624.53" y1="1553.6" x2="624.53" y2="1565.1"/><line x1="875.51" y1="1553.6" x2="875.51" y2="1565.1"/><line x1="1126.49" y1="1553.6" x2="1126.49" y2="1565.1"/><line x1="1377.47" y1="1553.6" x2="1377.47" y2="1565.1"/><line x1="546.5" y1="124.99" x2="558" y2="124.99"/><line x1="546.5" y1="526.19" x2="558" y2="526.19"/><line x1="546.5" y1="927.39" x2="558" y2="927.39"/><line x1="546.5" y1="1328.59" x2="558" y2="1328.59"/></g>
<g style="filter:opacity(1)"><text x="624.53" y="1600.8" text-anchor="middle" font-size="36.67px" fill="#4d4d4d" clip-path="url(#nf10w)">10°W</text>
<text x="875.51" y="1600.8" text-anchor="middle" font-size="36.67px" fill="#4d4d4d">5°W</text>
<text x="1126.49" y="1600.8" text-anchor="middle" font-size="36.67px" fill="#4d4d4d">0°</text>
<text x="1377.47" y="1600.8" text-anchor="middle" font-size="36.67px" fill="#4d4d4d">5°E</text>
<text x="537.37" y="137.76" text-anchor="end" font-size="36.67px" fill="#4d4d4d">60°N</text>
<text x="537.37" y="538.96" text-anchor="end" font-size="36.67px" fill="#4d4d4d">55°N</text>
<text x="537.37" y="940.16" text-anchor="end" font-size="36.67px" fill="#4d4d4d">50°N</text>
<text x="537.37" y="1341.36" text-anchor="end" font-size="36.67px" fill="#4d4d4d">45°N</text>
<text x="557.94" y="63" font-size="55px" fill="#000">Average SST</text>
<text x="1687.76" y="651.2" font-size="45.83px" fill="#000">average_sst</text>
<rect x="1687.9" y="678.9" width="71.97" height="360" fill="url(#cb)"/>
<g stroke="#fff" stroke-width="1.5"><line x1="1687.9" y1="1027.9" x2="1702.3" y2="1027.9"/><line x1="1745.47" y1="1027.9" x2="1759.87" y2="1027.9"/><line x1="1687.9" y1="902.17" x2="1702.3" y2="902.17"/><line x1="1745.47" y1="902.17" x2="1759.87" y2="902.17"/><line x1="1687.9" y1="795.87" x2="1702.3" y2="795.87"/><line x1="1745.47" y1="795.87" x2="1759.87" y2="795.87"/><line x1="1687.9" y1="703.79" x2="1702.3" y2="703.79"/><line x1="1745.47" y1="703.79" x2="1759.87" y2="703.79"/></g>
<text x="1782.47" y="1041.25" font-size="36.67px" fill="#000" clip-path="url(#nf10)">10</text>
<text x="1782.47" y="915.52" font-size="36.67px" fill="#000" clip-path="url(#nf12)">12</text>
<text x="1782.47" y="809.22" font-size="36.67px" fill="#000" clip-path="url(#nf14)">14</text>
<text x="1782.47" y="717.14" font-size="36.67px" fill="#000" clip-path="url(#nf16)">16</text>
</g><defs><clipPath id="nf10w"><path clip-rule="evenodd" d="M0 0H2416V1633H0Z M580.79 1597.36H588.72V1602.3H580.79Z M591.96 1597.36H599.6V1602.3H591.96Z"/></clipPath><clipPath id="nf10"><path clip-rule="evenodd" d="M0 0H2416V1633H0Z M1783.76 1037.81H1791.69V1042.75H1783.76Z M1794.93 1037.81H1802.57V1042.75H1794.93Z"/></clipPath><clipPath id="nf12"><path clip-rule="evenodd" d="M0 0H2416V1633H0Z M1783.76 912.08H1791.69V917.02H1783.76Z M1794.93 912.08H1802.57V917.02H1794.93Z"/></clipPath><clipPath id="nf14"><path clip-rule="evenodd" d="M0 0H2416V1633H0Z M1783.76 805.78H1791.69V810.72H1783.76Z M1794.93 805.78H1802.57V810.72H1794.93Z"/></clipPath><clipPath id="nf16"><path clip-rule="evenodd" d="M0 0H2416V1633H0Z M1783.76 713.7H1791.69V718.64H1783.76Z M1794.93 713.7H1802.57V718.64H1794.93Z"/></clipPath></defs>
</svg>
</body></html>
